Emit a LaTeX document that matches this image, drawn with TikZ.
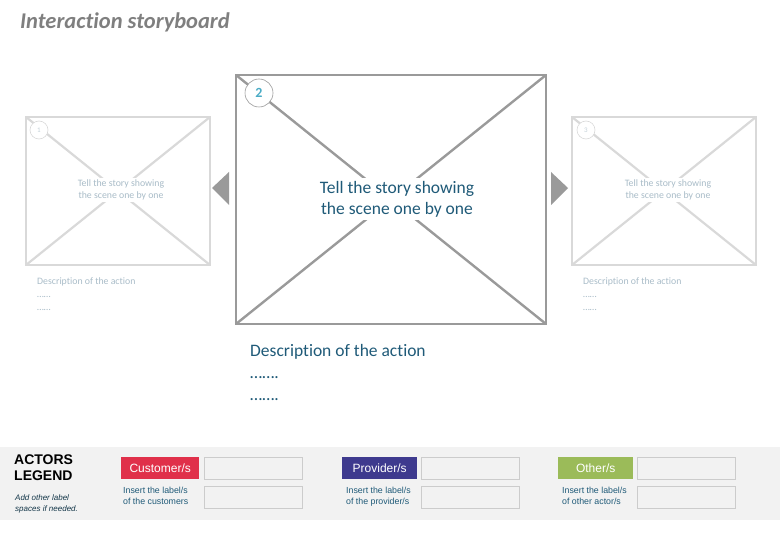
\documentclass[tikz,border=0pt]{standalone}
\usepackage{fontspec}
\setmainfont[Ligatures=NoCommon]{Carlito}
\newfontfamily\arialf{Liberation Sans}
\definecolor{framegray}{HTML}{9A9A9A}
\definecolor{lightframe}{HTML}{D9D9D9}
\definecolor{teal}{HTML}{1F5A78}
\definecolor{lightteal}{HTML}{A9BCC8}
\definecolor{numblue}{HTML}{4BACC6}
\definecolor{legendbg}{HTML}{F2F2F2}
\definecolor{custred}{HTML}{E0304A}
\definecolor{provpurple}{HTML}{3E3A8E}
\definecolor{othgreen}{HTML}{9BBB59}
\definecolor{titlegray}{HTML}{7F7F7F}
\tikzset{
  bigframe/.style={draw=framegray, line width=1.3pt},
  bigdiag/.style={draw=framegray, line width=2.4pt},
  smallframe/.style={draw=lightframe, line width=1.2pt},
  smalldiag/.style={draw=lightframe, line width=2.2pt},
  numcircle/.style={circle, draw=framegray, fill=white, line width=0.6pt, inner sep=0pt},
  smallcircle/.style={circle, draw=lightframe, fill=white, line width=0.6pt, inner sep=0pt, minimum size=18pt},
  bigtext/.style={fill=white, text=teal, font=\fontsize{17.5}{21}\selectfont, align=center, inner sep=3pt},
  smalltext/.style={fill=white, text=lightteal, font=\fontsize{9.8}{12}\selectfont, align=center, inner sep=2pt},
  smalldesc/.style={anchor=north west, align=left, text=lightteal, font=\fontsize{9.8}{13}\selectfont, inner sep=0pt},
  navarrow/.style={fill=framegray, draw=none},
  actorbox/.style={anchor=north west, minimum width=78pt, minimum height=22pt, inner sep=0pt, text=white, font=\arialf\fontsize{12}{14}\selectfont},
  labelbox/.style={anchor=north west, draw=lightframe!85!gray, fill=legendbg, line width=0.8pt, minimum width=98pt, minimum height=22pt, inner sep=0pt},
  insert/.style={anchor=north west, align=left, text=teal, font=\arialf\fontsize{8.8}{11}\selectfont, inner sep=0pt}
}
\begin{document}
\begin{tikzpicture}[x=1pt,y=-1pt]
\useasboundingbox (0,0) rectangle (780,540);
% title
\node[anchor=west, text=titlegray, font=\bfseries\itshape\fontsize{22.5}{26}\selectfont, inner sep=0pt] (title) at (20,22) {Interaction storyboard};

% left frame
\coordinate (l1) at (26,117); \coordinate (l2) at (210,117);
\coordinate (l3) at (210,265); \coordinate (l4) at (26,265);
\draw[smalldiag] (l1) -- (l3); \draw[smalldiag] (l2) -- (l4);
\draw[smallframe] (l1) rectangle (l3);
\node[smallcircle, text=lightteal!70!white, font=\fontsize{7}{8}\selectfont] (c1) at (39,130) {1};
\node[smalltext] (t1) at (121,190) {Tell the story showing\\the scene one by one};
\node[smalldesc] (d1) at (37,277) {Description of the action\\\ldots\ldots\\\ldots\ldots};

% right frame
\coordinate (r1) at (572,117); \coordinate (r2) at (756,117);
\coordinate (r3) at (756,265); \coordinate (r4) at (572,265);
\draw[smalldiag] (r1) -- (r3); \draw[smalldiag] (r2) -- (r4);
\draw[smallframe] (r1) rectangle (r3);
\node[smallcircle, text=lightteal!70!white, font=\fontsize{7}{8}\selectfont] (c3) at (586,130) {3};
\node[smalltext] (t3) at (668,190) {Tell the story showing\\the scene one by one};
\node[smalldesc] (d3) at (583,277) {Description of the action\\\ldots\ldots\\\ldots\ldots};

% center frame
\coordinate (m1) at (236,75); \coordinate (m2) at (546,75);
\coordinate (m3) at (546,324); \coordinate (m4) at (236,324);
\draw[bigdiag] (m1) -- (m3); \draw[bigdiag] (m2) -- (m4);
\draw[bigframe] (m1) rectangle (m3);
\node[numcircle, minimum size=28pt, text=numblue, font=\bfseries\fontsize{14}{16}\selectfont] (c2) at (259,93) {2};
\node[bigtext] (t2) at (397,199) {Tell the story showing\\the scene one by one};
\node[anchor=north west, align=left, text=teal, font=\fontsize{17.5}{22}\selectfont, inner sep=0pt] (d2) at (250,344) {Description of the action\\\ldots\ldots.\\\ldots\ldots.};

% navigation arrows
\coordinate (al1) at (212,188); \coordinate (al2) at (229,172); \coordinate (al3) at (229,205);
\fill[navarrow] (al1) -- (al2) -- (al3) -- cycle;
\coordinate (ar1) at (568,188); \coordinate (ar2) at (551,172); \coordinate (ar3) at (551,205);
\fill[navarrow] (ar1) -- (ar2) -- (ar3) -- cycle;

% legend band
\fill[legendbg] (0,447) rectangle (780,520);
\node[anchor=north west, align=left, font=\arialf\bfseries\fontsize{14}{16}\selectfont, inner sep=0pt] (leg) at (14,455) {ACTORS\\LEGEND};
\node[anchor=north west, align=left, font=\arialf\itshape\fontsize{8}{11}\selectfont, text=teal!60!black, inner sep=0pt] (addl) at (15,495) {Add other label\\spaces if needed.};

\node[actorbox, fill=custred] (cust) at (121,457) {Customer/s};
\node[labelbox] (cb1) at (204,457) {};
\node[labelbox] (cb2) at (204,486) {};
\node[insert] (ci) at (123,487) {Insert the label/s\\of the customers};

\node[actorbox, fill=provpurple, minimum width=75pt] (prov) at (342,457) {Provider/s};
\node[labelbox] (pb1) at (421,457) {};
\node[labelbox] (pb2) at (421,486) {};
\node[insert] (pi) at (346,487) {Insert the label/s\\of the provider/s};

\node[actorbox, fill=othgreen, minimum width=75pt] (oth) at (558,457) {Other/s};
\node[labelbox] (ob1) at (637,457) {};
\node[labelbox] (ob2) at (637,486) {};
\node[insert] (oi) at (562,487) {Insert the label/s\\of other actor/s};
\end{tikzpicture}
\end{document}
